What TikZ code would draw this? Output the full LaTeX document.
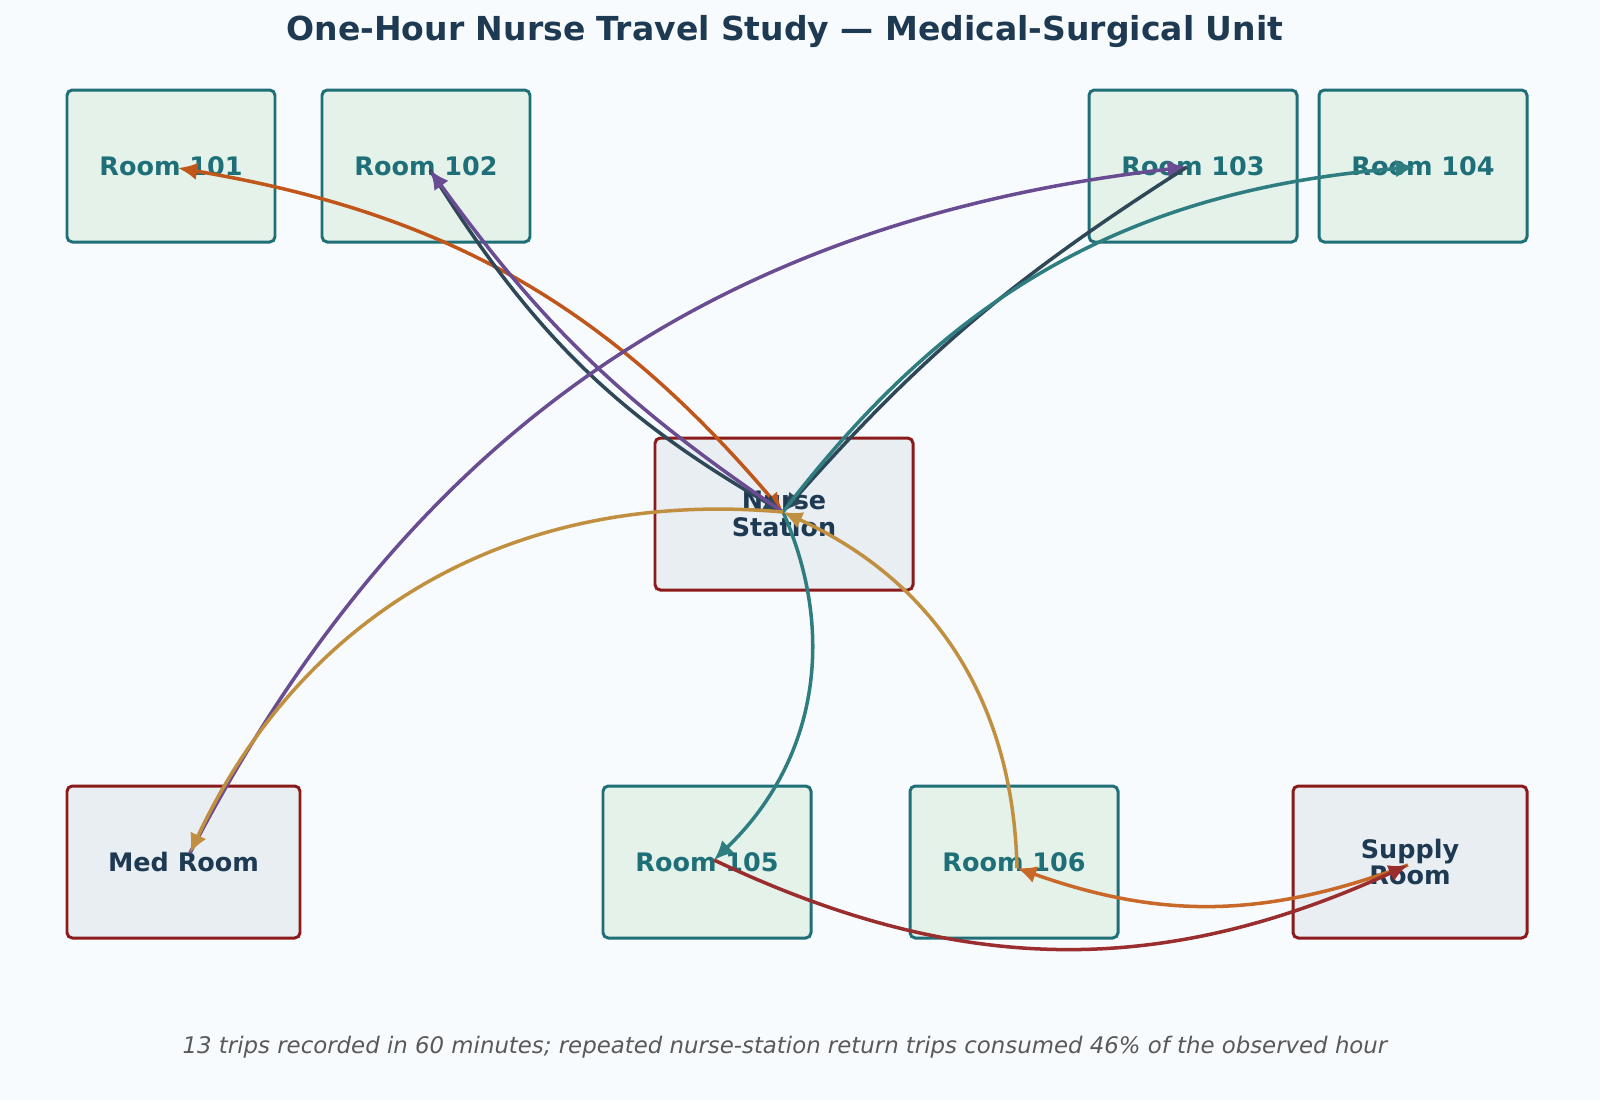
\documentclass[tikz,border=0pt]{standalone}
\usepackage{fontspec}
\setmainfont{DejaVu Sans}
\usetikzlibrary{arrows.meta}
\definecolor{bg}{HTML}{F8FBFD}
\definecolor{tealb}{HTML}{1F6F78}
\definecolor{tealf}{HTML}{E4F2EA}
\definecolor{redb}{HTML}{8B1A1A}
\definecolor{grayf}{HTML}{E9EEF3}
\definecolor{navy}{HTML}{1E3A52}
\definecolor{cOr}{HTML}{C0561A}
\definecolor{cSl}{HTML}{2F4858}
\definecolor{cPu}{HTML}{6A4C93}
\definecolor{cTe}{HTML}{2E7D80}
\definecolor{cGo}{HTML}{C09040}
\definecolor{cDr}{HTML}{9A2D2D}
\definecolor{cOr2}{HTML}{C8692A}
\begin{document}
\begin{tikzpicture}[x=0.02cm,y=-0.02cm,
  room/.style={draw=tealb,fill=tealf,line width=1.7pt,rounded corners=3pt,text=tealb,font=\bfseries\fontsize{14.5}{15}\selectfont,align=center},
  hub/.style={draw=redb,fill=grayf,line width=1.7pt,rounded corners=3pt,text=navy,font=\bfseries\fontsize{14.5}{15}\selectfont,align=center},
  trip/.style={line width=2pt,-{Latex[length=11pt,width=10pt]}},
  trip2/.style={line width=2pt,{Latex[length=11pt,width=10pt]}-{Latex[length=11pt,width=10pt]}}]
\fill[bg] (0,0) rectangle (1600,1100);
\node[font=\bfseries\fontsize{18.8}{22}\selectfont,text=navy] (title) at (785,32) {One-Hour Nurse Travel Study — Medical-Surgical Unit};
\path[room] (67,90) rectangle (275,242) node[midway] (r101) {Room 101};
\path[room] (322,90) rectangle (530,242) node[midway] (r102) {Room 102};
\path[room] (1089,90) rectangle (1297,242) node[midway] (r103) {Room 103};
\path[room] (1319,90) rectangle (1527,242) node[midway] (r104) {Room 104};
\path[hub] (655,438) rectangle (913,590) node[midway] (ns) {Nurse\\Station};
\path[hub] (67,786) rectangle (300,938) node[midway] (med) {Med Room};
\path[room] (603,786) rectangle (811,938) node[midway] (r105) {Room 105};
\path[room] (910,786) rectangle (1118,938) node[midway] (r106) {Room 106};
\path[hub] (1293,786) rectangle (1527,938) node[midway] (sup) {Supply\\Room};
\coordinate (p101) at (178,168);
\coordinate (p102) at (430,170);
\coordinate (p103) at (1187,167);
\coordinate (p104) at (1415,167);
\coordinate (p105) at (714,860);
\coordinate (p106) at (1017,868);
\coordinate (psup) at (1408,865);
\coordinate (pmed) at (190,853);
\coordinate (pns) at (783,512);
\draw[trip2,cOr] (p101) to[bend left=20] (pns);
\draw[trip,cSl] (p102) to[bend right=14] (pns);
\draw[trip,cPu] (pns) to[bend left=10] (p102);
\draw[trip,cPu] (pmed) to[bend left=28] (p103);
\draw[trip,cSl] (p103) to[bend right=8] (pns);
\draw[trip,cTe] (pns) to[bend left=24] (p104);
\draw[trip,cTe] (pns) to[bend left=35] (p105);
\draw[trip,cGo] (p106) to[bend right=32] (pns);
\draw[trip,cGo] (pns) to[bend right=35] (pmed);
\draw[trip,cOr2] (psup) to[bend left=20] (p106);
\draw[trip,cDr] (p105) to[bend right=25] (psup);
\node[font=\itshape\fontsize{13}{15}\selectfont,text=black!65] (cap) at (785,1047) {13 trips recorded in 60 minutes; repeated nurse-station return trips consumed 46\% of the observed hour};
\pgfresetboundingbox
\useasboundingbox (0,0) rectangle (1600,1100);
\end{tikzpicture}
\end{document}
